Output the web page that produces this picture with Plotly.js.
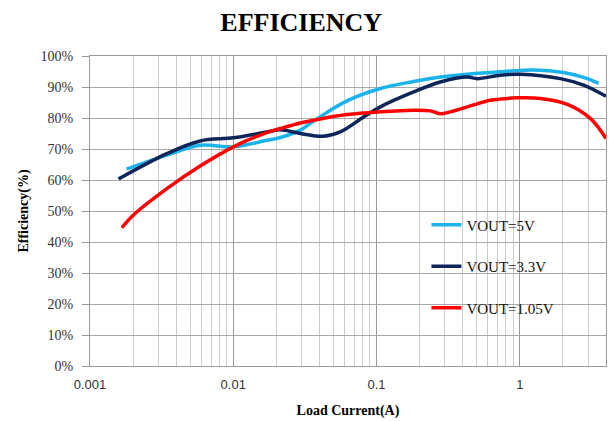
<!DOCTYPE html>
<html>
<head>
<meta charset="utf-8">
<script src="https://cdn.plot.ly/plotly-3.0.1.min.js"></script>
<style>html,body{margin:0;padding:0;background:#fff;}#chart{width:611px;height:421px;}</style>
</head>
<body>
<div id="chart"></div>
<script>
// Load current (A) and efficiency (%)
const current5V = [0.0018, 0.00344, 0.00587, 0.01003, 0.01717, 0.0213, 0.0294, 0.0364, 0.0622, 0.1064, 0.1817, 0.279, 0.431, 0.733, 1.25, 2.02, 2.79, 3.55];
const eff5V     = [63.5,   68.0,    71.2,    70.7,    72.8,    73.7,   76.1,   79.0,   85.5,   89.5,   91.8,   93.2,  94.1,  94.9,  95.5, 94.7, 93.1, 91.2];

const current3V3 = [0.00158, 0.00344, 0.00587, 0.01003, 0.01717, 0.0213, 0.0294, 0.0427, 0.0558, 0.0813, 0.1064, 0.1817, 0.279, 0.431, 0.506, 0.733, 1.01, 1.92, 2.79, 4.0];
const eff3V3     = [60.3,    68.5,    72.6,    73.6,    75.5,    76.2,   75.0,   74.1,   75.5,   80.3,   83.6,   88.4,   91.6,  93.2,  92.7,  93.8,  94.1, 92.7, 90.6, 87.0];

const current1V05 = [0.00167, 0.00201, 0.00344, 0.00587, 0.01003, 0.01717, 0.0213, 0.0294, 0.0364, 0.0622, 0.1064, 0.1817, 0.2377, 0.279, 0.431, 0.624, 0.964, 1.40, 2.15, 3.12, 4.0];
const eff1V05     = [44.6,    48.7,    57.2,    64.5,    70.7,    75.3,    76.6,   78.4,   79.3,   81.1,   82.0,   82.5,   82.3,   81.4,  83.6,  85.7,  86.5,  86.3, 84.4, 79.8, 73.4];

const seriesNames = ["VOUT=5V", "VOUT=3.3V", "VOUT=1.05V"];
const xTickVals = [0.001, 0.01, 0.1, 1];
const xTickText = ["0.001", "0.01", "0.1", "1"];
const yTickVals = [0, 10, 20, 30, 40, 50, 60, 70, 80, 90, 100];
const yTickText = ["0%", "10%", "20%", "30%", "40%", "50%", "60%", "70%", "80%", "90%", "100%"];

// minor grid positions (2..9 within each decade)
const minorVals = [];
[0.001, 0.01, 0.1, 1].forEach(d => { for (let k = 2; k <= 9; k++) minorVals.push(d * k); });

const colors = ["#1cb2ec", "#0d2559", "#ff0000"];
const xs = [current5V, current3V3, current1V05];
const ys = [eff5V, eff3V3, eff1V05];

const traces = seriesNames.map((n, i) => ({
  x: xs[i], y: ys[i], name: n, type: "scatter", mode: "lines",
  line: {color: colors[i], width: 3.5, shape: "spline", smoothing: 1},
  legendgroup: "g" + i
}));

const serif = "Liberation Serif, Times New Roman, serif";
const layout = {
  width: 611, height: 421,
  margin: {l: 90, r: 5, t: 56, b: 55},
  paper_bgcolor: "#ffffff", plot_bgcolor: "#ffffff",
  title: {text: "<b>EFFICIENCY</b>", font: {family: serif, size: 26, color: "#000"},
          x: 0.493, xref: "container", xanchor: "center", y: 0.948, yref: "container", yanchor: "middle"},
  xaxis: {
    type: "log", range: [-3, Math.log10(4)],
    tickmode: "array", tickvals: xTickVals, ticktext: xTickText,
    tickfont: {family: "Liberation Sans, Arial, sans-serif", size: 13, color: "#333"},
    ticks: "", ticklabelstandoff: 6,
    showgrid: true, gridcolor: "#9a9a9a", gridwidth: 1,
    minor: {tickmode: "array", tickvals: minorVals, showgrid: true, gridcolor: "#cccccc", gridwidth: 1, ticks: ""},
    showline: true, linecolor: "#9a9a9a", linewidth: 1, mirror: true,
    zeroline: false,
    title: {text: "<b>Load Current(A)</b>", font: {family: serif, size: 14, color: "#000"}, standoff: 14}
  },
  yaxis: {
    range: [0, 100],
    tickmode: "array", tickvals: yTickVals, ticktext: yTickText,
    tickfont: {family: serif, size: 14, color: "#333"},
    ticks: "outside", ticklen: 7, tickcolor: "#9a9a9a", ticklabelstandoff: 6,
    showgrid: true, gridcolor: "#a8a8a8", gridwidth: 1,
    showline: true, linecolor: "#9a9a9a", linewidth: 1, mirror: true,
    zeroline: false,
    title: {text: "<b>Efficiency(%)</b>", font: {family: serif, size: 14, color: "#000"}, standoff: 8}
  },
  showlegend: true,
  legend: {
    x: 0.652, xanchor: "left", y: 0.508, yanchor: "top",
    bgcolor: "rgba(0,0,0,0)", borderwidth: 0,
    font: {family: serif, size: 15, color: "#111"},
    traceorder: "grouped", tracegroupgap: 19,
    itemwidth: 30
  }
};

Plotly.newPlot("chart", traces, layout, {staticPlot: true, displayModeBar: false});
</script>
</body>
</html>
